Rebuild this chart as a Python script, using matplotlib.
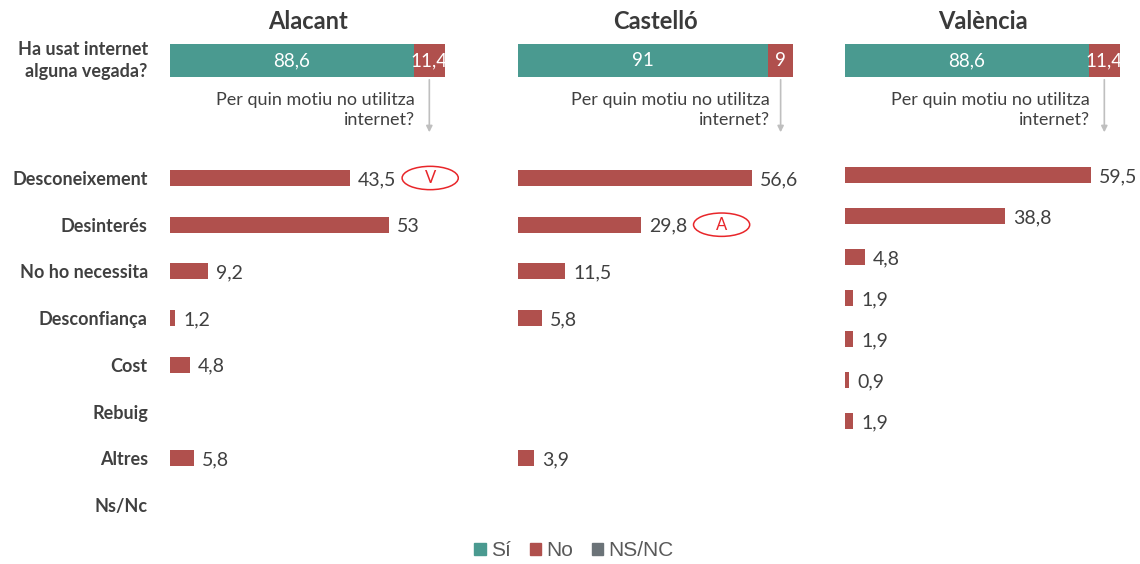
import numpy as np
import matplotlib.pyplot as plt
from matplotlib.patches import Patch, Ellipse

plt.rcParams['font.family'] = ['Lato', 'DejaVu Sans']

cities = ["Alacant", "Castelló", "València"]
si = [88.6, 91, 88.6]
no = [11.4, 9, 11.4]
nsnc = [0, 0, 0]

reasons = ["Desconeixement", "Desinterés", "No ho necessita", "Desconfiança",
           "Cost", "Rebuig", "Altres", "Ns/Nc"]
alacant = [43.5, 53, 9.2, 1.2, 4.8, np.nan, 5.8, np.nan]
castello = [56.6, 29.8, 11.5, 5.8, np.nan, np.nan, 3.9, np.nan]
valencia = [59.5, 38.8, 4.8, 1.9, 1.9, 0.9, 1.9]
reason_values = [alacant, castello, valencia]

# marks next to some bars: (city index, row index, letter)
marks = [(0, 0, "V"), (1, 1, "A")]

TEAL = "#4A9A90"
RED = "#B0504D"
GREY = "#6B7378"
TXT = "#404040"
W, H = 1140, 564

fig = plt.figure(figsize=(W / 100, H / 100), dpi=100)


def px_axes(left, top, width, height):
    ax = fig.add_axes([left / W, 1 - (top + height) / H, width / W, height / H])
    for s in ax.spines.values():
        s.set_visible(False)
    ax.set_xticks([])
    ax.set_yticks([])
    return ax


def fmt(v):
    return f"{v:g}".replace(".", ",")


lefts = [170, 518, 845]
first_rows = [178, 178, 175]
for i, city in enumerate(cities):
    # stacked bar "Ha usat internet"
    top = px_axes(lefts[i], 44, 275, 33)
    top.set_xlim(0, 100)
    top.set_ylim(0, 1)
    top.barh(0.5, si[i], height=1, color=TEAL)
    top.barh(0.5, no[i], left=si[i], height=1, color=RED)
    top.barh(0.5, nsnc[i], left=si[i] + no[i], height=1, color=GREY)
    top.text(si[i] / 2, 0.5, fmt(si[i]), color="white", ha="center", va="center", fontsize=13.5)
    top.text(si[i] + no[i] / 2, 0.5, fmt(no[i]), color="white", ha="center", va="center",
             fontsize=13.5, clip_on=False)
    top.annotate(city, xy=(0.5, 1), xycoords="axes fraction", xytext=(0, 16),
                 textcoords="offset points", ha="center", va="center",
                 fontsize=17, fontweight="bold", color="#3A3A3A")
    top.annotate("Per quin motiu no utilitza\ninternet?", xy=(si[i], 0),
                 xycoords=("data", "axes fraction"), xytext=(1, -24),
                 textcoords="offset points", ha="right", va="center",
                 fontsize=13, color=TXT, linespacing=1.3)
    xc = si[i] + no[i] / 2
    top.annotate("", xy=(xc, -1.76), xytext=(xc, 0),
                 xycoords=("data", "axes fraction"), textcoords=("data", "axes fraction"),
                 arrowprops=dict(arrowstyle="-|>", color="#BFBFBF", lw=1.2, mutation_scale=9),
                 annotation_clip=False)
    if i == 0:
        top.annotate("Ha usat internet\nalguna vegada?", xy=(0, 0.5), xycoords="axes fraction",
                     xytext=(-16, 0), textcoords="offset points", ha="right", va="center",
                     fontsize=13, fontweight="bold", color=TXT, linespacing=1.3)

    # reasons
    vals = reason_values[i]
    n = len(vals)
    if n == 8:
        step, bh = 46.7, 0.34
    else:
        step, bh = 41, 0.37
    ax = px_axes(lefts[i], first_rows[i] - step / 2, 275, step * n)
    ax.set_xlim(0, 275 / 4.13)
    ax.set_ylim(n - 0.5, -0.5)
    rows = np.arange(n)
    ax.barh(rows, np.nan_to_num(vals), height=bh, color=RED)
    for r, v in zip(rows, vals):
        if not np.isnan(v):
            ax.annotate(fmt(v), xy=(v, r), xytext=(6, -1), textcoords="offset points",
                        ha="left", va="center", fontsize=14, color=TXT)
    if i == 0:
        ax.set_yticks(rows)
        ax.set_yticklabels(reasons, fontsize=13, fontweight="bold", color=TXT)
        ax.tick_params(axis="y", length=0, pad=16)
    for ci, ri, letter in marks:
        if ci == i:
            cx = vals[ri] + 19.5
            ax.add_patch(Ellipse((cx, ri), 13.6, 0.5, fill=False, edgecolor="#E8262A",
                                 lw=1.1, clip_on=False))
            ax.text(cx, ri, letter, color="#E8262A", ha="center", va="center", fontsize=12,
                    clip_on=False)

handles = [Patch(color=TEAL, label="Sí"), Patch(color=RED, label="No"),
           Patch(color=GREY, label="NS/NC")]
fig.legend(handles=handles, loc="center", bbox_to_anchor=(574 / W, 1 - 551 / H), ncol=3,
           frameon=False, prop={"family": "Liberation Sans", "size": 15},
           handlelength=0.55, handleheight=0.55, handletextpad=0.25, columnspacing=0.9,
           labelcolor="#595959")

fig.savefig("out.png", dpi=100)
